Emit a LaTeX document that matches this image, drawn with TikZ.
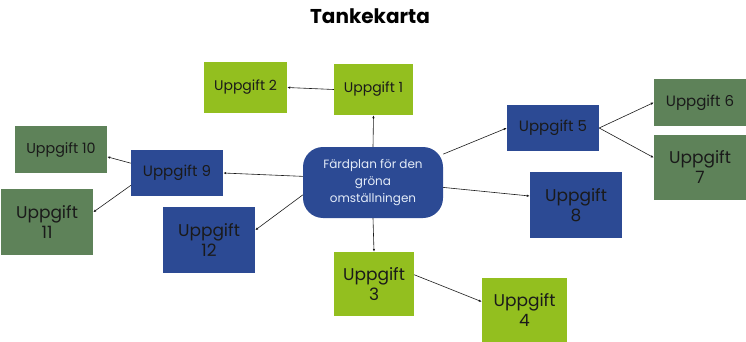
\documentclass[tikz,border=0pt]{standalone}
\usepackage{fontspec}
\setmainfont{Poppins}
\usepackage{xcolor}
\usepackage{tikz}
\usetikzlibrary{arrows.meta}
\definecolor{lime}{HTML}{93BF1F}
\definecolor{moss}{HTML}{5E8259}
\definecolor{royal}{HTML}{2C4A94}
\definecolor{ink}{HTML}{1A1A1A}
\definecolor{pale}{HTML}{E4ECF8}
\tikzset{
  task/.style={
    draw=none,inner sep=0pt,align=center,text=ink
  },
  limebox/.style={task,fill=lime},
  mossbox/.style={task,fill=moss},
  bluebox/.style={task,fill=royal},
  oneline/.style={font=\fontsize{15}{18}\selectfont},
  twoline/.style={font=\fontsize{17}{20}\selectfont},
  hub/.style={
    rounded corners=20pt,fill=royal,inner sep=0pt,
    minimum width=140pt,minimum height=71pt,align=center,
    text=pale,font=\fontsize{12}{17}\selectfont
  },
  arrow/.style={-{Latex[length=3pt,width=2.5pt]},draw=ink,line width=.6pt}
}
\begin{document}
\begin{tikzpicture}[x=1pt,y=-1pt]
\useasboundingbox (0,0) rectangle (746,342);
\node[font=\fontsize{20}{24}\selectfont\bfseries] (title) at (370,16) {Tankekarta};
\node[hub] (hub) at (373,182.5) {Färdplan för den\\gröna\\omställningen};
\node[limebox,minimum width=79pt,minimum height=51pt,font=\fontsize{14}{17}\selectfont] (u1) at (373.5,89.5) {Uppgift 1};
\node[limebox,minimum width=83pt,minimum height=51pt,font=\fontsize{14}{17}\selectfont] (u2) at (245.5,87.5) {Uppgift 2};
\node[limebox,twoline,minimum width=80pt,minimum height=64pt] (u3) at (374,284) {Uppgift\\3};
\node[limebox,twoline,minimum width=85pt,minimum height=64pt] (u4) at (524.5,310) {Uppgift\\4};
\node[bluebox,oneline,minimum width=92pt,minimum height=46pt] (u5) at (553,128) {Uppgift 5};
\node[mossbox,oneline,minimum width=92pt,minimum height=47pt] (u6) at (700,102.5) {Uppgift 6};
\node[mossbox,twoline,minimum width=92pt,minimum height=65pt] (u7) at (700,167.5) {Uppgift\\7};
\node[bluebox,twoline,minimum width=92pt,minimum height=66pt] (u8) at (576,205) {Uppgift\\8};
\node[bluebox,oneline,minimum width=92pt,minimum height=46pt] (u9) at (177,173) {Uppgift 9};
\node[mossbox,minimum width=92pt,minimum height=47pt,font=\fontsize{14.3}{17}\selectfont] (u10) at (61,149.5) {Uppgift 10};
\node[mossbox,twoline,minimum width=92pt,minimum height=66pt] (u11) at (47,222) {Uppgift\\11};
\node[bluebox,twoline,minimum width=92pt,minimum height=66pt] (u12) at (209,240) {Uppgift\\12};
% branches from the hub
\draw[arrow] (hub.north)--(u1.south);
\draw[arrow] (u1.west)--(u2.east);
\draw[arrow] (hub.south)--(u3.north);
\draw[arrow] (u3.13)--(u4.169);
\draw[arrow] (hub.22)--(u5.west);
\draw[arrow] (u5.east)--(u6.west);
\draw[arrow] (u5.east)--(u7.168);
\draw[arrow] (hub.-4)--(u8.169);
\draw[arrow] (hub.175)--(u9.east);
\draw[arrow] (u9.168)--(u10.-9);
\draw[arrow] (u9.195)--(u11.12);
\draw[arrow] (hub.190)--(u12.12);
\end{tikzpicture}
\end{document}
